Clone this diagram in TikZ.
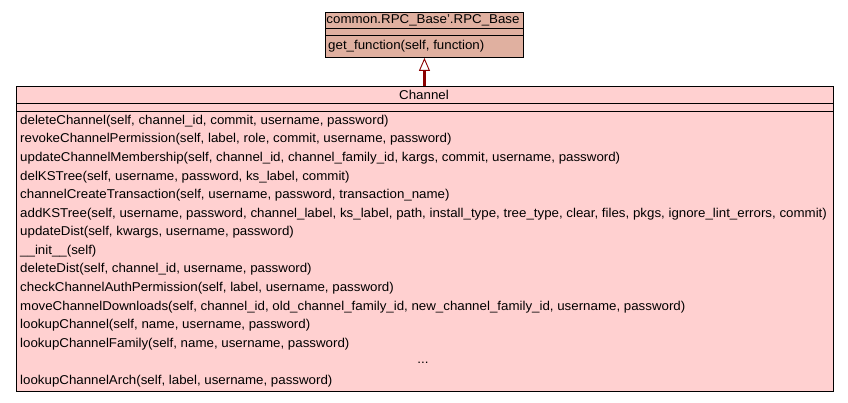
\documentclass[tikz,border=0pt]{standalone}
\usepackage{fontspec}
\setmainfont[FakeStretch=1.04]{Liberation Sans}
\usetikzlibrary{arrows.meta}
\definecolor{basefill}{RGB}{224,176,160}
\definecolor{chanfill}{RGB}{255,208,208}
\definecolor{arrowred}{RGB}{139,0,0}
\begin{document}
\begin{tikzpicture}[x=1pt,y=-1pt,
  classbox/.style={draw=black,line width=0.9pt,inner sep=0pt,anchor=north west},
  txt/.style={font=\fontsize{12.8}{14}\selectfont,inner sep=0pt,anchor=west},
  ttl/.style={font=\fontsize{12.8}{14}\selectfont,inner sep=0pt,anchor=center},
  sep/.style={line width=0.9pt},
  inherit/.style={draw=arrowred,line width=2.6pt,-{Triangle[open,length=13pt,width=11pt,line width=0.9pt]}}]
\useasboundingbox (0,0) rectangle (848,403);
% base class
\node[classbox,fill=basefill,minimum width=198pt,minimum height=45pt] (base) at (325,12) {};
\node[ttl] (basetitle) at (423,20) {common.RPC\_Base'.RPC\_Base};
\draw[sep] (325,28) -- (523,28);
\draw[sep] (325,35) -- (523,35);
\node[txt] (basem) at (328,46) {get\_function(self, function)};
% channel class
\node[classbox,fill=chanfill,minimum width=817pt,minimum height=305pt] (chan) at (16,86) {};
\node[ttl] (chantitle) at (424,94.5) {Channel};
\draw[sep] (16,103) -- (833,103);
\draw[sep] (16,111) -- (833,111);
\foreach \t [count=\i from 0] in {
 {deleteChannel(self, channel\_id, commit, username, password)},
 {revokeChannelPermission(self, label, role, commit, username, password)},
 {updateChannelMembership(self, channel\_id, channel\_family\_id, kargs, commit, username, password)},
 {delKSTree(self, username, password, ks\_label, commit)},
 {channelCreateTransaction(self, username, password, transaction\_name)},
 {addKSTree(self, username, password, channel\_label, ks\_label, path, install\_type, tree\_type, clear, files, pkgs, ignore\_lint\_errors, commit)},
 {updateDist(self, kwargs, username, password)},
 {\_\_init\_\_(self)},
 {deleteDist(self, channel\_id, username, password)},
 {checkChannelAuthPermission(self, label, username, password)},
 {moveChannelDownloads(self, channel\_id, old\_channel\_family\_id, new\_channel\_family\_id, username, password)},
 {lookupChannel(self, name, username, password)},
 {lookupChannelFamily(self, name, username, password)}}
 { \node[txt] (m\i) at (20,{121+\i*18.57}) {\t}; }
\node[ttl] (dots) at (423,{121+13*18.57}) {...};
\node[txt] (m14) at (20,{121+14*18.57}) {lookupChannelArch(self, label, username, password)};
% inheritance
\draw[inherit] (chan.north -| base.south) -- (base.south);
\end{tikzpicture}
\end{document}
